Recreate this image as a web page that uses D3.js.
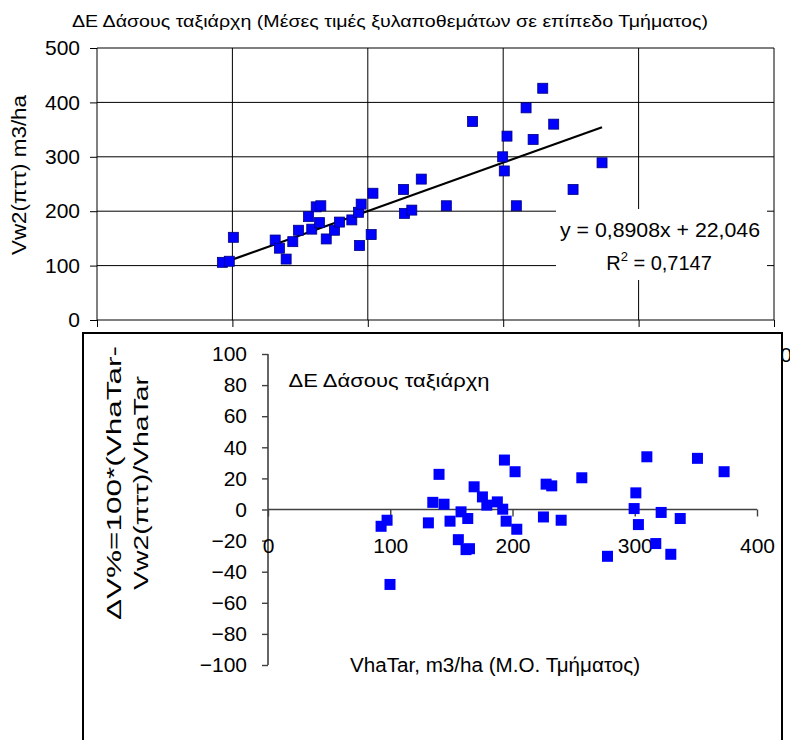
<!DOCTYPE html>
<html>
<head>
<meta charset="utf-8">
<script src="https://d3js.org/d3.v7.min.js"></script>
<style>
  body { margin: 0; background: #fff; }
  svg { font-family: "Liberation Sans", Arial, sans-serif; }
</style>
</head>
<body>
<script>
// data of the top chart: mean VhaTar per Tmima and Vw2 (m3/ha)
var vhaTar = [92.6, 97.7, 100.7, 131.6, 134.7, 139.7, 144.6, 148.8, 156.2, 158.6,
              161.9, 164.3, 165.3, 169.3, 175.4, 179.1, 188.2, 193.1, 193.9, 195.1,
              202.5, 203.8, 226.4, 227.1, 232.5, 239.5, 258, 277.4, 299.6, 300.8,
              302.8, 309.7, 316.9, 322.1, 329.2, 337.3, 351.6, 373];
var vw2 = [106, 108, 152, 147, 132, 112, 144, 165, 190, 167,
           208, 179, 210, 149, 165, 180, 184, 198, 137, 213,
           157, 233, 240, 196, 202, 259, 210, 365, 300, 274,
           338, 210, 390, 332, 426, 360, 240, 289];

// data of the bottom chart: VhaTar and deviation in percent
var devX = [92.5, 97.4, 99.8, 131.2, 134.8, 139.9, 144, 148.9, 155.7, 157.9,
            162, 163.4, 164.8, 168.6, 175.4, 179, 187.6, 192, 193.4, 194.8,
            202.1, 203.5, 225.3, 227.5, 232.1, 239.8, 256.7, 277.7, 299.5, 300.9,
            303, 309.9, 317.2, 321.6, 329.5, 337.2, 351.3, 373.1];
var devY = [-10.8, -6.9, -48.2, -8.6, 4.6, 22.6, 3.4, -7.5, -19.4, -1.5,
            -25.8, -5.8, -25.2, 14.6, 8.1, 2.8, 4.9, 0.2, 31.8, -7.5,
            24.3, -12.7, -4.8, 16.3, 15.2, -6.9, 20.4, -30.1, 0.6, 10.7,
            -9.7, 33.9, -21.9, -1.9, -28.8, -5.8, 32.9, 24.3];

// trendline and tick values
var slope = 0.8908;
var intercept = 22.046;
var topTicks = [0, 100, 200, 300, 400, 500];
var devTicksY = [-100, -80, -60, -40, -20, 0, 20, 40, 60, 80, 100];
var devTicksX = [0, 100, 200, 300, 400];

var w = 790;
var h = 740;
var fontFam = "\"Liberation Sans\", Arial, sans-serif";

var svg = d3.select("body")
            .append("svg")
            .attr("width", w)
            .attr("height", h);

// helper for a text stretched to the width seen in the picture
function stretchedText(x, y, size, len, str, rotate) {
  var t = svg.append("text")
     .attr("transform", "translate(" + x + "," + y + ")" + (rotate ? " rotate(-90)" : ""))
     .style("text-anchor", "middle")
     .style("font-size", size + "px")
     .attr("textLength", len)
     .attr("lengthAdjust", "spacingAndGlyphs")
     .text(str);
  return t;
}

// ---------- top chart ----------
var xScale = d3.scaleLinear().domain([0, 500]).range([97, 774]);
var yScale = d3.scaleLinear().domain([0, 500]).range([320, 48]);

stretchedText(390, 27, 16, 636,
  "ΔΕ Δάσους ταξιάρχη (Μέσες τιμές ξυλαποθεμάτων σε επίπεδο Τμήματος)", false);

// grid lines
svg.selectAll(".hgrid")
   .data(topTicks.slice(1))
   .enter()
   .append("line")
   .attr("x1", xScale(0))
   .attr("x2", xScale(500))
   .attr("y1", function(d) { return yScale(d); })
   .attr("y2", function(d) { return yScale(d); })
   .attr("stroke", "#000")
   .attr("stroke-width", 1);

svg.selectAll(".vgrid")
   .data(topTicks.slice(1))
   .enter()
   .append("line")
   .attr("x1", function(d) { return xScale(d); })
   .attr("x2", function(d) { return xScale(d); })
   .attr("y1", yScale(0))
   .attr("y2", yScale(500))
   .attr("stroke", "#000")
   .attr("stroke-width", 1);

// axes
var yAxis = d3.axisLeft(yScale).tickValues(topTicks).tickSize(7).tickPadding(10);
var yAxisG = svg.append("g")
   .attr("transform", "translate(" + xScale(0) + ",0)")
   .call(yAxis);

// only the last x label of the top chart is (partly) visible past the lower box
var xAxis = d3.axisBottom(xScale).tickValues(topTicks).tickSize(7).tickPadding(20)
   .tickFormat(function(d) { return d == 500 ? d : ""; });
var xAxisG = svg.append("g")
   .attr("transform", "translate(0," + yScale(0) + ")")
   .call(xAxis);

[yAxisG, xAxisG].forEach(function(g) {
  g.select(".domain").attr("stroke", "#000").attr("stroke-width", 1);
  g.selectAll(".tick line").attr("stroke", "#000");
  g.selectAll(".tick text")
   .attr("fill", "#000")
   .style("font-size", "21px")
   .style("font-family", fontFam);
});
xAxisG.select(".domain").attr("d", "M" + xScale(0) + ",0H" + xScale(500));
yAxisG.select(".domain").attr("d", "M0," + yScale(0) + "V" + yScale(500));

stretchedText(26, 175, 20, 160, "Vw2(πττ) m3/ha", true);

// trendline over the range of the data
var xMin = d3.min(vhaTar);
var xMax = d3.max(vhaTar);
svg.append("line")
   .attr("x1", xScale(xMin))
   .attr("y1", yScale(slope * xMin + intercept))
   .attr("x2", xScale(xMax))
   .attr("y2", yScale(slope * xMax + intercept))
   .attr("stroke", "#000")
   .attr("stroke-width", 2.2);

// points
svg.selectAll(".topPoint")
   .data(vhaTar)
   .enter()
   .append("rect")
   .attr("x", function(d) { return xScale(d) - 5; })
   .attr("y", function(d, i) { return yScale(vw2[i]) - 5; })
   .attr("width", 10)
   .attr("height", 10)
   .attr("fill", "#0000ff")
   .attr("stroke", "#000080")
   .attr("stroke-width", 0.8);

// equation label
svg.append("rect")
   .attr("x", 556)
   .attr("y", 209)
   .attr("width", 211)
   .attr("height", 71)
   .attr("fill", "#fff");

stretchedText(660, 237, 20, 200, "y = 0,8908x + 22,046", false);

var r2 = svg.append("text")
   .attr("x", 659)
   .attr("y", 270)
   .style("text-anchor", "middle")
   .style("font-size", "20px");
r2.append("tspan").text("R");
r2.append("tspan").attr("dy", -9).style("font-size", "13px").text("2");
r2.append("tspan").attr("dy", 9).text(" = 0,7147");

// ---------- bottom chart ----------
svg.append("rect")
   .attr("x", 83)
   .attr("y", 333)
   .attr("width", 699)
   .attr("height", 420)
   .attr("fill", "#fff")
   .attr("stroke", "#000")
   .attr("stroke-width", 2);

var dxScale = d3.scaleLinear().domain([0, 400]).range([268, 757]);
var dyScale = d3.scaleLinear().domain([-100, 100]).range([665, 354]);

var dyAxis = d3.axisLeft(dyScale).tickValues(devTicksY).tickSize(6).tickPadding(15);
var dyAxisG = svg.append("g")
   .attr("transform", "translate(" + dxScale(0) + ",0)")
   .call(dyAxis);

var dxAxis = d3.axisBottom(dxScale).tickValues(devTicksX).tickSize(7).tickPadding(22);
var dxAxisG = svg.append("g")
   .attr("transform", "translate(0," + dyScale(0) + ")")
   .call(dxAxis);

[dyAxisG, dxAxisG].forEach(function(g) {
  g.select(".domain").attr("stroke", "#404040").attr("stroke-width", 1.6);
  g.selectAll(".tick line").attr("stroke", "#404040").attr("stroke-width", 1.4);
  g.selectAll(".tick text")
   .attr("fill", "#000")
   .style("font-size", "21px")
   .style("font-family", fontFam);
});
dyAxisG.select(".domain").attr("d", "M0," + dyScale(-100) + "V" + dyScale(100));
dxAxisG.select(".domain").attr("d", "M" + dxScale(0) + ",0H" + dxScale(400));

stretchedText(389, 387, 19, 201, "ΔΕ Δάσους ταξιάρχη", false);

stretchedText(121, 483, 20, 274, "ΔV%=100*(VhaTar-", true);
stretchedText(148, 483, 20, 214, "Vw2(πττ)/VhaTar", true);

stretchedText(495, 672, 20, 290, "VhaTar, m3/ha (Μ.Ο. Τμήματος)", false);

svg.selectAll(".devPoint")
   .data(devX)
   .enter()
   .append("rect")
   .attr("x", function(d) { return dxScale(d) - 5.5; })
   .attr("y", function(d, i) { return dyScale(devY[i]) - 5.5; })
   .attr("width", 11)
   .attr("height", 11)
   .attr("fill", "#0000ff");
</script>
</body>
</html>
